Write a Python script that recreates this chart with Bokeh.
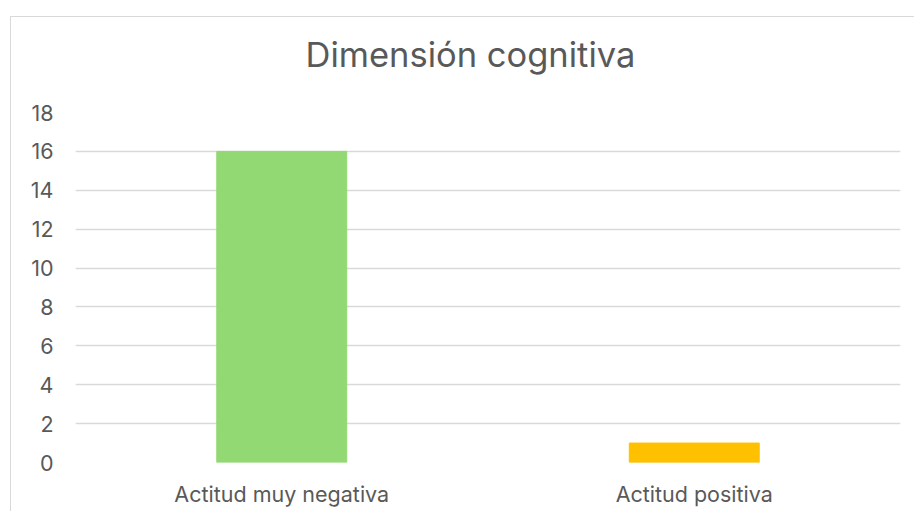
from bokeh.plotting import figure
from bokeh.models import FixedTicker, ColumnDataSource, Title
from bokeh.embed import file_html
from bokeh.resources import INLINE

categories = ["Actitud muy negativa", "Actitud positiva"]
values = [16, 1]
colors = ["#92D873", "#FFC000"]
y_ticks = [0, 2, 4, 6, 8, 10, 12, 14, 16, 18]
title_text = "Dimensión cognitiva"

FONT = "Inter"
TXT = "#595959"

src = ColumnDataSource(dict(cat=categories, val=values, color=colors))

p = figure(x_range=categories, y_range=(0, 18), width=904, height=495,
           output_backend="svg", toolbar_location=None,
           min_border_left=64, min_border_right=15, min_border_top=95, min_border_bottom=50)
p.margin = (16, 0, 0, 10)
p.styles = {"border-left": "1px solid #d9d9d9", "border-top": "1px solid #d9d9d9"}

p.vbar(x="cat", top="val", width=0.315, color="color", source=src)

# spacer between the title and the plot frame
p.add_layout(Title(text=" ", text_font_size="1px", standoff=35), "above")
p.add_layout(Title(text=title_text, align="left", offset=230, standoff=0,
                   text_font=FONT, text_font_size="34.5px", text_font_style="normal",
                   text_color=TXT), "above")

p.outline_line_color = None
p.xgrid.grid_line_color = None
p.ygrid.grid_line_color = "#d9d9d9"
p.ygrid.grid_line_width = 1.5
p.yaxis.ticker = FixedTicker(ticks=y_ticks)

for ax in (p.xaxis, p.yaxis):
    ax.axis_line_color = None
    ax.major_tick_line_color = None
    ax.minor_tick_line_color = None
    ax.major_tick_out = 0
    ax.major_tick_in = 0
    ax.major_label_text_font = FONT
    ax.major_label_text_font_size = "21.5px"
    ax.major_label_text_color = TXT
p.yaxis.major_label_standoff = 22
p.xaxis.major_label_standoff = 18
p.x_range.range_padding = 0

open("out.html", "w").write(file_html(p, INLINE))
